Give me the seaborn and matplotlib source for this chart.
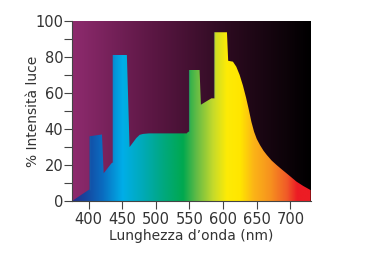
import numpy as np
import matplotlib
matplotlib.use("Agg")
import matplotlib.pyplot as plt
import seaborn as sns
from matplotlib.colors import LinearSegmentedColormap, to_rgb
from matplotlib.patches import Polygon

# ---- data ----
wavelength = [375, 399, 401.5, 401.5, 420, 422.5, 434, 436, 436, 457, 461, 466, 471,
              476, 481, 490, 520, 546, 548, 549.5, 549.5, 565, 567, 582.5, 587, 587,
              605.7, 607.5, 614.6, 619.6, 624.5, 629.5, 634, 638, 642, 646, 650,
              655, 660, 665, 672, 679.4, 687, 694.2, 701, 709, 719, 730]
intensity = [0, 6, 6.5, 36, 37, 15.5, 21, 21.5, 81, 81, 30, 32.5, 35,
             36.8, 37.3, 37.6, 37.6, 37.6, 38.5, 38.5, 72.7, 72.7, 53.5, 57, 57, 93.6,
             93.6, 77.8, 77.3, 74.5, 70, 64, 57.5, 51, 44, 38.5, 34.5,
             31, 28, 25.6, 22.6, 20.1, 17.7, 15.5, 13.4, 10.9, 8.5, 6.2]
x_ticks = [400, 450, 500, 550, 600, 650, 700]
y_ticks = [0, 20, 40, 60, 80, 100]
x_label = "Lunghezza d\u2019onda (nm)"
y_label = "% Intensit\u00e0 luce"

# ---- style ----
sns.set_style("ticks")
plt.rcParams["font.family"] = ["DejaVu Sans"]
text_col = "#333333"

fig = plt.figure(figsize=(3.72, 2.58), dpi=100)
ax = fig.add_axes([0.1927, 0.2198, 0.835 - 0.1927, 0.9198 - 0.2198])

xmin, xmax, ymin, ymax = 375, 730, 0, 100

# background gradient (purple -> black)
bg_cmap = LinearSegmentedColormap.from_list("bg", ["#8e2b6e", "#5c1744", "#2a0a1e", "#000000"])
grad = np.linspace(0, 1, 512)[None, :]
ax.imshow(grad, cmap=bg_cmap, aspect="auto", extent=[xmin, xmax, ymin, ymax],
          origin="lower", zorder=0, interpolation="bilinear")

# spectrum fill
stops_nm = [375, 395, 420, 450, 480, 510, 540, 560, 585, 605, 625, 645, 670, 695, 710, 730]
stops_col = ["#24308a", "#1547a0", "#0a6cc0", "#00aee8", "#00aab8", "#00a880", "#00a84f",
             "#62bb46", "#c5da2b", "#fdeb06", "#ffe600", "#fbb517", "#f7921e",
             "#f05a28", "#ec1c24", "#ed1c24"]
pos = [(s - xmin) / (xmax - xmin) for s in stops_nm]
spec_cmap = LinearSegmentedColormap.from_list("spec", list(zip(pos, [to_rgb(c) for c in stops_col])))
im = ax.imshow(grad, cmap=spec_cmap, aspect="auto", extent=[xmin, xmax, ymin, ymax],
               origin="lower", zorder=1, interpolation="bilinear")
verts = [(xmin, 0)] + list(zip(wavelength, intensity)) + [(xmax, 0)]
poly = Polygon(verts, closed=True, transform=ax.transData, facecolor="none", edgecolor="none")
ax.add_patch(poly)
im.set_clip_path(poly)

sns.lineplot(x=wavelength, y=intensity, ax=ax, lw=0, sort=False, zorder=2)

ax.set_xlim(xmin, xmax)
ax.set_ylim(ymin, ymax)
ax.set_xticks(x_ticks)
ax.set_yticks(y_ticks)
ax.set_yticks([10, 30, 50, 70, 90], minor=True)
ax.tick_params(axis="both", which="both", length=6, width=0.8, color="#444444",
               labelsize=10.5, labelcolor=text_col)
ax.tick_params(axis="y", which="both", pad=0)
ax.tick_params(axis="x", which="both", pad=2)
ax.set_xlabel(x_label, fontsize=10, color=text_col, labelpad=1)
ax.set_ylabel(y_label, fontsize=10, color=text_col, labelpad=-3)
for s in ["top", "right"]:
    ax.spines[s].set_visible(False)
for s in ["left", "bottom"]:
    ax.spines[s].set_color("#444444")
    ax.spines[s].set_linewidth(0.8)

fig.savefig("out.png", dpi=100)
